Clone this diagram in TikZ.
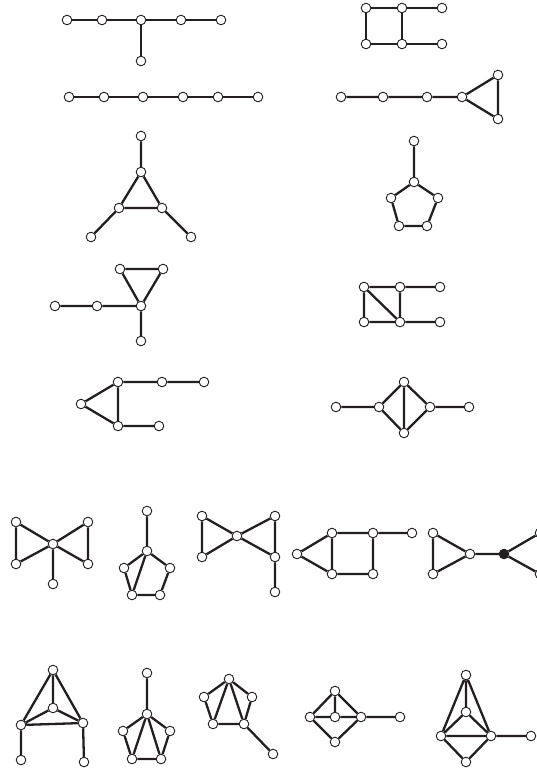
\documentclass[tikz,border=0pt]{standalone}
\begin{document}
\begin{tikzpicture}[x=1pt,y=-1pt,
  v/.style={circle,draw=ink,fill=white,line width=0.9pt,inner sep=0pt,minimum size=9.6pt},
  vf/.style={v,fill=ink},
  e/.style={draw=ink,line width=2.3pt},
  ]
\definecolor{ink}{HTML}{231F20}
\useasboundingbox (0,0) rectangle (537,769);
\clip (0,0) rectangle (537,769);
% G1
\node[v] (a1) at (67,20) {}; \node[v] (a2) at (102,20) {}; \node[v] (a3) at (141,20) {};
\node[v] (a4) at (181,20) {}; \node[v] (a5) at (221,20) {}; \node[v] (a6) at (141,61) {};
\path[e] (a1)--(a2) (a2)--(a3) (a3)--(a4) (a4)--(a5) (a3)--(a6);
% G2
\node[v] (b1) at (69,97) {}; \node[v] (b2) at (104,97) {}; \node[v] (b3) at (143,97) {};
\node[v] (b4) at (183,97) {}; \node[v] (b5) at (218,97) {}; \node[v] (b6) at (258,97) {};
\path[e] (b1)--(b2) (b2)--(b3) (b3)--(b4) (b4)--(b5) (b5)--(b6);
% G3
\node[v] (c1) at (366,8) {}; \node[v] (c2) at (402,8) {}; \node[v] (c3) at (442,8) {};
\node[v] (c4) at (366,44) {}; \node[v] (c5) at (402,44) {}; \node[v] (c6) at (442,44) {};
\path[e] (c1)--(c2) (c2)--(c3) (c4)--(c5) (c5)--(c6) (c1)--(c4) (c2)--(c5);
% G4
\node[v] (d1) at (341,97) {}; \node[v] (d2) at (383,97) {}; \node[v] (d3) at (427,97) {};
\node[v] (d4) at (462,97) {}; \node[v] (d5) at (498,75) {}; \node[v] (d6) at (498,119) {};
\path[e] (d1)--(d2) (d2)--(d3) (d3)--(d4) (d4)--(d5) (d4)--(d6) (d5)--(d6);
% G5
\node[v] (f1) at (141,136) {}; \node[v] (f2) at (141,172) {}; \node[v] (f3) at (119,208) {};
\node[v] (f4) at (162,208) {}; \node[v] (f5) at (91,237) {}; \node[v] (f6) at (191,237) {};
\path[e] (f1)--(f2) (f2)--(f3) (f2)--(f4) (f3)--(f4) (f3)--(f5) (f4)--(f6);
% G6
\node[v] (g1) at (414,141) {}; \node[v] (g2) at (414,182) {}; \node[v] (g3) at (391,198) {};
\node[v] (g4) at (438,198) {}; \node[v] (g5) at (399,226) {}; \node[v] (g6) at (427,226) {};
\path[e] (g1)--(g2) (g2)--(g4) (g4)--(g6) (g6)--(g5) (g5)--(g3) (g3)--(g2);
% G7
\node[v] (h1) at (120,269) {}; \node[v] (h2) at (163,269) {}; \node[v] (h3) at (141,306) {};
\node[v] (h4) at (55,306) {}; \node[v] (h5) at (97,306) {}; \node[v] (h6) at (141,341) {};
\path[e] (h4)--(h5) (h5)--(h3) (h3)--(h6) (h3)--(h1) (h3)--(h2) (h1)--(h2);
% G8
\node[v] (i1) at (118,382) {}; \node[v] (i2) at (162,382) {}; \node[v] (i3) at (204,382) {};
\node[v] (i4) at (81,404) {}; \node[v] (i5) at (118,426) {}; \node[v] (i6) at (159,426) {};
\path[e] (i1)--(i2) (i2)--(i3) (i4)--(i1) (i4)--(i5) (i1)--(i5) (i5)--(i6);
% G9
\node[v] (j1) at (364,287) {}; \node[v] (j2) at (400,287) {}; \node[v] (j3) at (440,287) {};
\node[v] (j4) at (364,322) {}; \node[v] (j5) at (400,322) {}; \node[v] (j6) at (440,322) {};
\path[e] (j1)--(j2) (j2)--(j3) (j4)--(j5) (j5)--(j6) (j1)--(j4) (j2)--(j5) (j1)--(j5);
% G10
\node[v] (k1) at (336,407) {}; \node[v] (k2) at (379,407) {}; \node[v] (k3) at (404,382) {};
\node[v] (k4) at (404,433) {}; \node[v] (k5) at (430,407) {}; \node[v] (k6) at (469,407) {};
\path[e] (k1)--(k2) (k2)--(k3) (k2)--(k4) (k3)--(k4) (k3)--(k5) (k4)--(k5) (k5)--(k6);
% G11
\node[v] (l1) at (16,522) {}; \node[v] (l2) at (16,564) {}; \node[v] (l3) at (53,544) {};
\node[v] (l4) at (88,522) {}; \node[v] (l5) at (88,564) {}; \node[v] (l6) at (53,584) {};
\path[e] (l1)--(l2) (l1)--(l3) (l2)--(l3) (l4)--(l5) (l4)--(l3) (l5)--(l3) (l3)--(l6);
% G12
\node[v] (m1) at (147,511) {}; \node[v] (m2) at (147,551) {}; \node[v] (m3) at (124,568) {};
\node[v] (m4) at (170,568) {}; \node[v] (m5) at (132,595) {}; \node[v] (m6) at (160,595) {};
\path[e] (m1)--(m2) (m2)--(m3) (m3)--(m5) (m5)--(m6) (m6)--(m4) (m4)--(m2) (m2)--(m5);
% G13
\node[v] (n1) at (202,516) {}; \node[v] (n2) at (202,557) {}; \node[v] (n3) at (237,536) {};
\node[v] (n4) at (275,516) {}; \node[v] (n5) at (275,557) {}; \node[v] (n6) at (275,592) {};
\path[e] (n1)--(n2) (n1)--(n3) (n2)--(n3) (n3)--(n4) (n3)--(n5) (n4)--(n5) (n5)--(n6);
% G14
\node[v] (o1) at (297,554) {}; \node[v] (o2) at (332,533) {}; \node[v] (o3) at (332,574) {};
\node[v] (o4) at (373,533) {}; \node[v] (o5) at (373,574) {}; \node[v] (o6) at (412,533) {};
\path[e] (o1)--(o2) (o1)--(o3) (o2)--(o3) (o2)--(o4) (o4)--(o5) (o3)--(o5) (o4)--(o6);
% G15
\node[v] (p1) at (433,533) {}; \node[v] (p2) at (433,574) {}; \node[v] (p3) at (470,554) {};
\node[vf] (p4) at (504,554) {}; \node[v] (p5) at (540,533) {}; \node[v] (p6) at (540,574) {};
\path[e] (p1)--(p2) (p1)--(p3) (p2)--(p3) (p3)--(p4) (p4)--(p5) (p4)--(p6) (p5)--(p6);
% G16
\node[v] (q1) at (53,670) {}; \node[v] (q2) at (53,708) {}; \node[v] (q3) at (21,725) {};
\node[v] (q4) at (83,723) {}; \node[v] (q5) at (21,760) {}; \node[v] (q6) at (84,762) {};
\path[e] (q1)--(q2) (q1)--(q3) (q1)--(q4) (q2)--(q3) (q2)--(q4) (q3)--(q4) (q3)--(q5) (q4)--(q6);
% G17
\node[v] (r1) at (147,673) {}; \node[v] (r2) at (147,714) {}; \node[v] (r3) at (123,731) {};
\node[v] (r4) at (170,731) {}; \node[v] (r5) at (132,759) {}; \node[v] (r6) at (161,759) {};
\path[e] (r1)--(r2) (r2)--(r3) (r3)--(r5) (r5)--(r6) (r6)--(r4) (r4)--(r2) (r2)--(r5) (r2)--(r6);
% G18
\node[v] (s1) at (229,679) {}; \node[v] (s2) at (204,697) {}; \node[v] (s3) at (252,697) {};
\node[v] (s4) at (213,724) {}; \node[v] (s5) at (244,724) {}; \node[v] (s6) at (273,754) {};
\path[e] (s1)--(s2) (s2)--(s4) (s4)--(s5) (s5)--(s3) (s3)--(s1) (s1)--(s4) (s1)--(s5) (s5)--(s6);
% G19
\node[v] (t1) at (335,691) {}; \node[v] (t2) at (310,717) {}; \node[v] (t3) at (335,717) {};
\node[v] (t4) at (361,717) {}; \node[v] (t5) at (335,742) {}; \node[v] (t6) at (400,717) {};
\path[e] (t2)--(t1) (t1)--(t4) (t4)--(t5) (t5)--(t2) (t1)--(t3) (t2)--(t3) (t3)--(t4) (t4)--(t6);
% G20
\node[v] (w1) at (466,675) {}; \node[v] (w2) at (466,712) {}; \node[v] (w3) at (441,736) {};
\node[v] (w4) at (491,736) {}; \node[v] (w5) at (466,762) {}; \node[v] (w6) at (531,736) {};
\path[e] (w1)--(w2) (w1)--(w3) (w1)--(w4) (w2)--(w3) (w2)--(w4) (w3)--(w4) (w3)--(w5) (w4)--(w5) (w4)--(w6);
\end{tikzpicture}
\end{document}
